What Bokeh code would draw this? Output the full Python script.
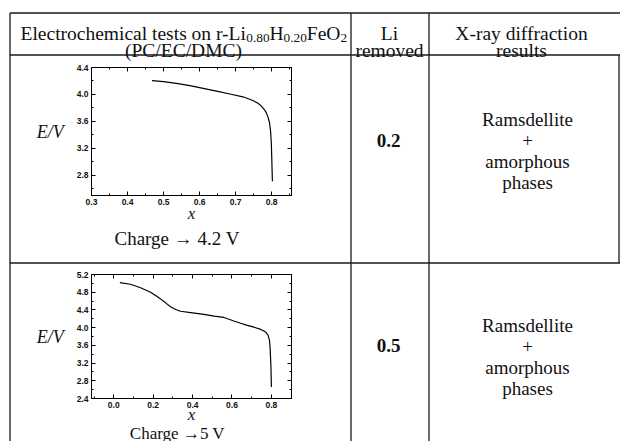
from bokeh.plotting import figure
from bokeh.models import Range1d, LinearAxis, FixedTicker, PrintfTickFormatter, GridBox
from bokeh.core.properties import value
from bokeh.embed import file_html
from bokeh.resources import INLINE

# ---- data: cell potential E (V) versus Li content x during charge ----
x_42 = [0.468, 0.500, 0.540, 0.573, 0.610, 0.650, 0.684, 0.720, 0.748, 0.762,
        0.771, 0.779, 0.785, 0.790, 0.794, 0.797, 0.799, 0.800, 0.801, 0.802]
e_42 = [4.205, 4.190, 4.160, 4.130, 4.090, 4.045, 4.007, 3.965, 3.910, 3.870,
        3.830, 3.780, 3.730, 3.660, 3.580, 3.450, 3.280, 3.100, 2.900, 2.710]

x_5 = [0.031, 0.085, 0.136, 0.187, 0.237, 0.263, 0.288, 0.314, 0.339, 0.390,
       0.458, 0.509, 0.559, 0.610, 0.644, 0.678, 0.712, 0.746, 0.771, 0.783,
       0.790, 0.793, 0.797, 0.798, 0.800]
e_5 = [5.017, 4.980, 4.900, 4.800, 4.650, 4.560, 4.470, 4.410, 4.370, 4.340,
       4.300, 4.260, 4.230, 4.150, 4.100, 4.050, 4.010, 3.960, 3.900, 3.830,
       3.720, 3.570, 3.200, 3.060, 2.660]

x_ticks_42 = [0.3, 0.4, 0.5, 0.6, 0.7, 0.8]
e_ticks_42 = [2.8, 3.2, 3.6, 4.0, 4.4]
x_ticks_5 = [0.0, 0.2, 0.4, 0.6, 0.8]
e_ticks_5 = [2.4, 2.8, 3.2, 3.6, 4.0, 4.4, 4.8, 5.2]

# ---- table contents ----
li_removed = ["0.2", "0.5"]
xrd_result = ["Ramsdellite", "+", "amorphous", "phases"]
captions = ["Charge  \u2192 4.2 V", "Charge  \u21925 V"]

SERIF = "Liberation Serif"
INK = "#111111"


def minor_between(ticks, lo, hi):
    step = ticks[1] - ticks[0]
    out, t = [], ticks[0] - step / 2
    while t <= hi + 1e-9:
        if t >= lo - 1e-9:
            out.append(round(t, 4))
        t += step
    return out


def style_axis(ax, major, minor, show_labels=True):
    ax.ticker = FixedTicker(ticks=major, minor_ticks=minor)
    ax.formatter = PrintfTickFormatter(format="%.1f")
    ax.major_tick_in = 4
    ax.major_tick_out = 0
    ax.minor_tick_in = 2
    ax.minor_tick_out = 0
    ax.axis_line_color = "black"
    ax.major_tick_line_color = "black"
    ax.minor_tick_line_color = "black"
    ax.major_label_text_font = "Liberation Sans"
    ax.major_label_text_font_style = "bold"
    ax.major_label_text_font_size = "8.5px"
    ax.major_label_text_color = INK
    ax.major_label_standoff = 3
    if not show_labels:
        ax.major_label_overrides = {t: "" for t in major}
        ax.major_label_text_font_size = "1px"
        ax.major_label_standoff = 0


def panel(xs, es, x_rng, e_rng, x_major, e_major, width, height, borders, label_gap):
    p = figure(width=width, height=height, x_range=Range1d(*x_rng), y_range=Range1d(*e_rng),
               output_backend="svg", toolbar_location=None, sizing_mode="fixed")
    p.grid.visible = False
    p.background_fill_alpha = 0
    p.border_fill_alpha = 0
    p.outline_line_color = "black"
    p.min_border_top, p.min_border_right, p.min_border_bottom, p.min_border_left = borders
    x_minor = minor_between(x_major, *x_rng)
    e_minor = minor_between(e_major, *e_rng)

    xa = p.xaxis[0]
    style_axis(xa, x_major, x_minor)
    xa.axis_label = "x"
    xa.axis_label_text_font = SERIF
    xa.axis_label_text_font_style = "italic"
    xa.axis_label_text_font_size = "17px"
    xa.axis_label_text_color = INK
    xa.axis_label_standoff = label_gap

    ya = p.yaxis[0]
    style_axis(ya, e_major, e_minor)
    ya.axis_label = "E/V"
    ya.axis_label_text_font = SERIF
    ya.axis_label_text_font_style = "italic"
    ya.axis_label_text_font_size = "18px"
    ya.axis_label_text_color = INK
    ya.axis_label_orientation = "horizontal"
    ya.axis_label_standoff = 10

    top = LinearAxis()
    style_axis(top, x_major, x_minor, show_labels=False)
    p.add_layout(top, "above")
    right = LinearAxis()
    style_axis(right, e_major, e_minor, show_labels=False)
    p.add_layout(right, "right")

    p.line(xs, es, line_color="black", line_width=1.2)
    return p


p1 = panel(x_42, e_42, (0.3, 0.855), (2.5, 4.4), x_ticks_42, e_ticks_42,
           330, 204, (11, 58, 65, 71), -4)
p2 = panel(x_5, e_5, (-0.113, 0.902), (2.4, 5.2), x_ticks_5, e_ticks_5,
           330, 177, (10, 59, 43, 71), -6)

# ---- table background: rules and cell text ----
bg = figure(frame_width=620, frame_height=441, x_range=Range1d(0, 620),
            y_range=Range1d(441, 0), output_backend="svg", toolbar_location=None,
            min_border=0, x_axis_location=None, y_axis_location=None, title=None)
bg.grid.visible = False
bg.outline_line_color = None

rule_x0 = [9.5, 9.5, 9.5, 9.5, 350.5, 428.5, 618.5]
rule_y0 = [12.5, 54.5, 262.5, 12.5, 12.5, 12.5, 54.5]
rule_x1 = [620, 620, 620, 9.5, 350.5, 428.5, 618.5]
rule_y1 = [12.5, 54.5, 262.5, 441, 441, 441, 262.5]
bg.segment(rule_x0, rule_y0, rule_x1, rule_y1, line_color="#1a1a1a", line_width=1.3)


def put(texts, xs, ys, size="19px", align="center", style="normal"):
    bg.text(x=xs, y=ys, text=texts, text_font=value(SERIF), text_font_size=size,
            text_align=align, text_baseline="alphabetic", text_font_style=style,
            text_color=INK)


# header line with subscripts, laid out run by run with Times-compatible advances
ADV = {'E': 611, 'l': 278, 'e': 444, 'c': 444, 't': 278, 'r': 333, 'o': 500, 'h': 500,
       'm': 778, 'i': 278, 'a': 444, ' ': 250, 's': 389, 'n': 500, '-': 333, 'L': 611,
       'H': 722, 'F': 556, 'O': 722, '0': 500, '2': 500, '8': 500, '.': 250}
runs = [("Electrochemical tests on r-Li", 1.0, 0), ("0.80", 0.68, 4), ("H", 1.0, 0),
        ("0.20", 0.68, 4), ("FeO", 1.0, 0), ("2", 0.68, 4)]
head_size = 19.5
cx = 20.0
for txt, scale, dy in runs:
    sz = head_size * scale
    put([txt], [cx], [33 + dy], size=f"{sz:.1f}px", align="left")
    cx += sum(ADV[c] for c in txt) * sz / 1000.0

put(["(PC/EC/DMC)"], [183], [50], size="19.5px")
put(["Li", "removed"], [389, 389], [33, 50], size="19.5px")
put(["X-ray diffraction", "results"], [521, 521], [33, 50], size="19.5px")

put(li_removed, [388, 388], [140, 345], style="bold")
put(xrd_result, [527] * 4, [119, 140, 161, 182])
put(xrd_result, [527] * 4, [325, 346, 367, 388])
put(captions[:1], [179], [238])
put(captions[1:], [179], [433], size="17px")

# the table spans the whole grid; the two charts sit on top of it in their cells
layout = GridBox(children=[(bg, 0, 0, 4, 3), (p1, 1, 1), (p2, 3, 1)],
                 rows=["56px", "204px", "4px", "177px"], cols=["20px", "330px", "270px"],
                 spacing=0)

open("out.html", "w").write(file_html(layout, INLINE))
